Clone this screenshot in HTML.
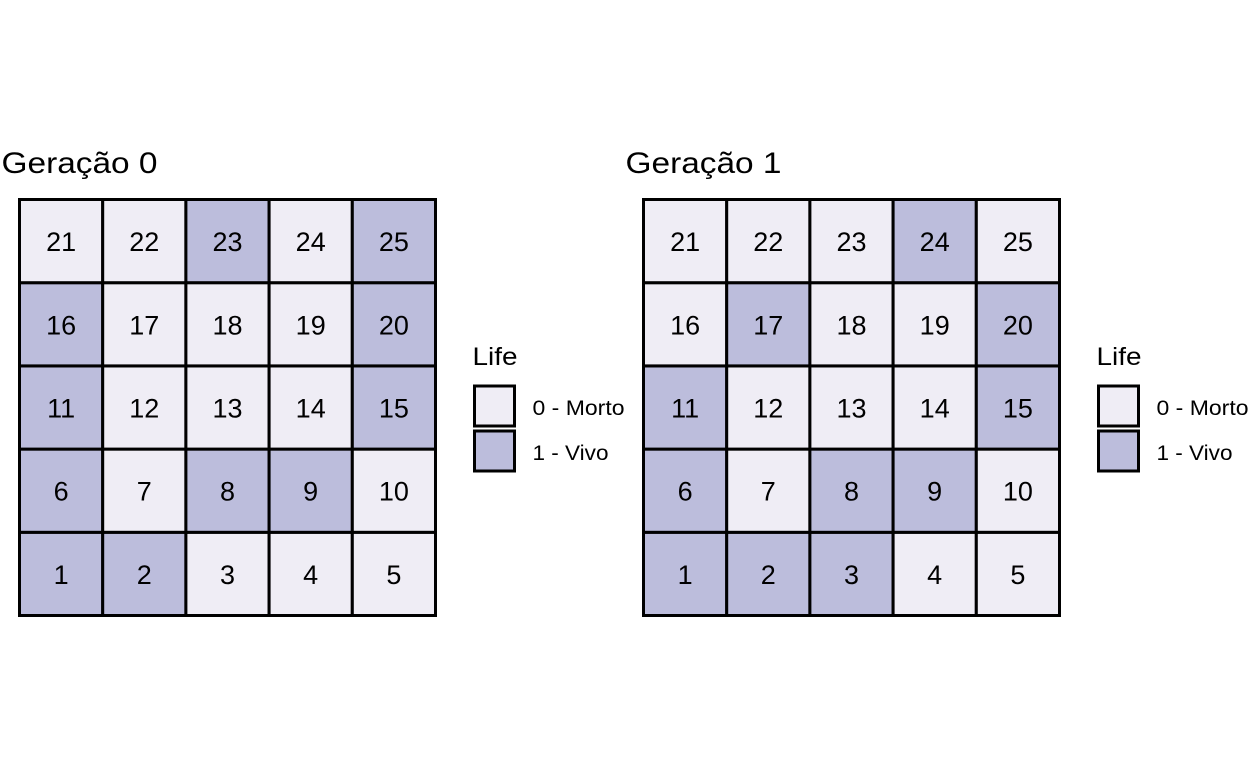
<!DOCTYPE html>
<html><head><meta charset="utf-8"><style>
body{margin:0;background:#fff;}
svg{display:block;font-family:"Liberation Sans",sans-serif;}
</style></head><body>
<svg id="chart" width="1248" height="768" viewBox="0 0 1248 768"></svg>
<script>
const cellIds = [1,2,3,4,5,6,7,8,9,10,11,12,13,14,15,16,17,18,19,20,21,22,23,24,25];
const gen0Alive = [1,1,0,0,0, 1,0,1,1,0, 1,0,0,0,1, 1,0,0,0,1, 0,0,1,0,1];
const gen1Alive = [1,1,1,0,0, 1,0,1,1,0, 1,0,0,0,1, 0,1,0,0,1, 0,0,0,1,0];
const panelTitles = ["Geração 0","Geração 1"];
const legendLabels = ["0 - Morto","1 - Vivo"];
const colors = ["#efedf5","#bcbddc"];
const NS="http://www.w3.org/2000/svg";
const svg=document.getElementById('chart');
function mk(tag,attrs,parent){const e=document.createElementNS(NS,tag);for(const k in attrs)e.setAttribute(k,attrs[k]);(parent||svg).appendChild(e);return e;}
const panels=[{x0:19.5,data:gen0Alive},{x0:643.5,data:gen1Alive}];
const y0=199.5, cs=83.2;
panels.forEach((p,pi)=>{
  const g=mk('g',{});
  
  
  const t=mk('text',{x:p.x0-18,y:173,'font-size':30,fill:'#000',textLength:156,lengthAdjust:'spacingAndGlyphs'},g);
  t.textContent=panelTitles[pi];
  
  
  cellIds.forEach((id,i)=>{
    const col=i%5,row=Math.floor(i/5);
    const x=p.x0+col*cs, y=y0+(4-row)*cs;
    const r=mk('rect',{x:x,y:y,width:cs,height:cs,fill:colors[p.data[i]],stroke:'#000','stroke-width':3},g);
    
    
    const tx=mk('text',{x:x+cs/2,y:y+cs/2+10,'text-anchor':'middle','font-size':27,fill:'#000'},g);
    tx.textContent=id;
    
    
  });
  const lx=p.x0+455;
  const lg=mk('g',{},g);
  
  
  const lt=mk('text',{x:lx-2,y:365,'font-size':25,fill:'#000',textLength:45,lengthAdjust:'spacingAndGlyphs'},lg);
  lt.textContent='Life';
  
  
  const widths=[92,76];
  legendLabels.forEach((lab,k)=>{
    const by=386+k*45;
    const b=mk('rect',{x:lx,y:by,width:40,height:40,fill:colors[k],stroke:'#000','stroke-width':3},lg);
    
    
    const tt=mk('text',{x:lx+58,y:by+29,'font-size':21,fill:'#000',textLength:widths[k],lengthAdjust:'spacingAndGlyphs'},lg);
    tt.textContent=lab;
    
    
  });
});
</script>
</body></html>
